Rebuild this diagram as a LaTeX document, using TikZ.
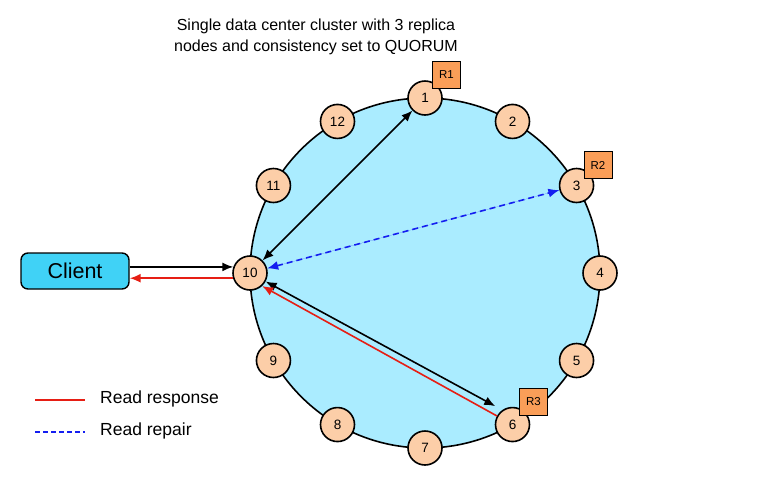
\documentclass[tikz,border=0pt]{standalone}
\usepackage{fontspec}
\setmainfont{Liberation Sans}
\usetikzlibrary{arrows.meta,calc}
\definecolor{ringfill}{RGB}{170,236,255}
\definecolor{nodefill}{RGB}{252,206,168}
\definecolor{repfill}{RGB}{250,158,88}
\definecolor{clientfill}{RGB}{64,210,246}
\definecolor{respred}{RGB}{230,30,20}
\definecolor{repblue}{RGB}{20,30,240}
\begin{document}
\begin{tikzpicture}[x=1pt,y=-1pt,
  ringnode/.style={circle,draw,line width=1.6pt,fill=nodefill,minimum size=34pt,inner sep=0pt,font=\fontsize{13.5}{15}\selectfont},
  repbox/.style={draw,line width=0.9pt,fill=repfill,minimum width=28pt,minimum height=27pt,inner sep=0pt,font=\fontsize{11.5}{13}\selectfont},
  clientbox/.style={draw,line width=1.4pt,fill=clientfill,rounded corners=7pt,minimum width=108pt,minimum height=36pt,inner sep=0pt,font=\fontsize{21.5}{24}\selectfont},
  tip/.style={-{Latex[length=11pt,width=9pt]}},
  biarr/.style={line width=1.6pt,{Latex[length=11pt,width=9pt]}-{Latex[length=11pt,width=9pt]}},
  onearr/.style={line width=1.6pt,tip},
  legtext/.style={anchor=west,font=\fontsize{17.5}{20}\selectfont,inner sep=0pt}
]
\useasboundingbox (0,0) rectangle (762,483);
% ring
\filldraw[fill=ringfill,draw=black,line width=1.6pt] (425,273) circle (175pt);
% title
\node[align=center,font=\fontsize{16}{21.5}\selectfont] (title) at (316,37)
  {Single data center cluster with 3 replica\\nodes and consistency set to QUORUM};
% ring nodes
\foreach \k in {1,...,12} {
  \pgfmathsetmacro\ang{90-30*(\k-1)}
  \node[ringnode] (n\k) at ($(425,273)+(\ang:175pt)$) {\k};
}
% replica boxes
\node[repbox] (r1) at (446.5,75) {R1};
\node[repbox] (r2) at (598,165) {R2};
\node[repbox] (r3) at (533.5,402) {R3};
% client
\node[clientbox] (client) at (75,271) {Client};
% connectors
\draw[onearr] (client.east |- n10.160) -- (n10.160);
\draw[onearr,draw=respred,fill=respred] (n10.197) -- (client.east |- n10.197);
\draw[biarr] (n10) -- (n1);
\draw[biarr,draw=repblue,fill=repblue,dash pattern=on 6pt off 4pt] (n10) -- (n3);
\draw[biarr,shorten >=8pt] (n10) -- (n6.125);
\draw[onearr,draw=respred,fill=respred] (n6) -- (n10.-47);
% legend
\coordinate (la1) at (35,400);
\coordinate (la2) at (85,400);
\coordinate (lb1) at (35,432);
\coordinate (lb2) at (85,432);
\draw[respred,line width=2pt] (la1) -- (la2);
\draw[repblue,line width=1.8pt,dash pattern=on 5pt off 3pt] (lb1) -- (lb2);
\node[legtext] (lt1) at (100,399) {Read response};
\node[legtext] (lt2) at (100,431) {Read repair};
\end{tikzpicture}
\end{document}
